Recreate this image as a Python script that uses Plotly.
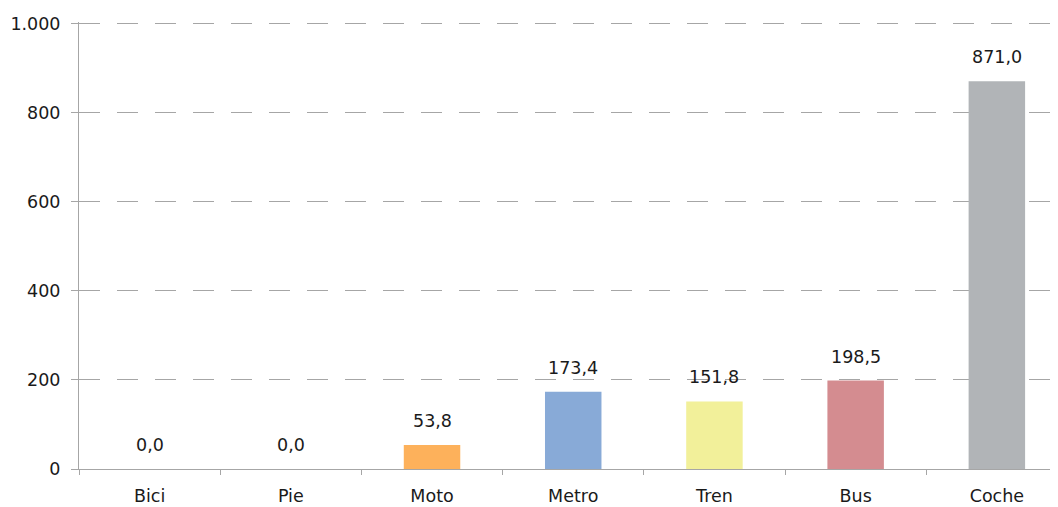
import plotly.graph_objects as go

categories = ["Bici", "Pie", "Moto", "Metro", "Tren", "Bus", "Coche"]
values = [0.0, 0.0, 53.8, 173.4, 151.8, 198.5, 871.0]
colors = ["#FDB15B", "#FDB15B", "#FDB15B", "#88AAD7", "#F2F09A", "#D48C90", "#B1B4B7"]
y_ticks = [0, 200, 400, 600, 800, 1000]

FONT = "DejaVu Sans"
FS = 17.5
TXT = "#1a1a1a"

fig = go.Figure(go.Bar(
    x=categories, y=values,
    marker=dict(color=colors, line=dict(width=0)),
    width=0.4,
))
for c, v in zip(categories, values):
    fig.add_annotation(
        x=c, y=v, text=f"{v:.1f}".replace(".", ","),
        showarrow=False, yanchor="bottom", yshift=12,
        font=dict(family=FONT, size=FS, color=TXT),
    )
fig.update_layout(
    width=1050, height=499,
    margin=dict(l=71, r=0, t=14, b=38, autoexpand=False),
    paper_bgcolor="white", plot_bgcolor="white",
    separators=",.",
    showlegend=False,
    font=dict(family=FONT, size=FS, color=TXT),
)
fig.update_xaxes(
    range=[-0.5, 6.433],
    showline=True, linecolor="#A6A6A6", linewidth=1,
    ticks="outside", tickson="boundaries", ticklen=5, tickcolor="#A6A6A6",
    showgrid=False, automargin=False, ticklabelstandoff=11,
    tickfont=dict(family=FONT, size=FS, color=TXT),
)
fig.update_yaxes(
    range=[0, 1004], tickvals=y_ticks, tickformat=",d",
    showline=True, linecolor="#A6A6A6", linewidth=1,
    ticks="outside", ticklen=7, tickcolor="#A6A6A6",
    showgrid=True, gridcolor="#A6A6A6", gridwidth=1, griddash="21px,17px",
    zeroline=False, automargin=False, ticklabelstandoff=7,
    tickfont=dict(family=FONT, size=FS, color=TXT),
)
fig.write_html("out.html")
